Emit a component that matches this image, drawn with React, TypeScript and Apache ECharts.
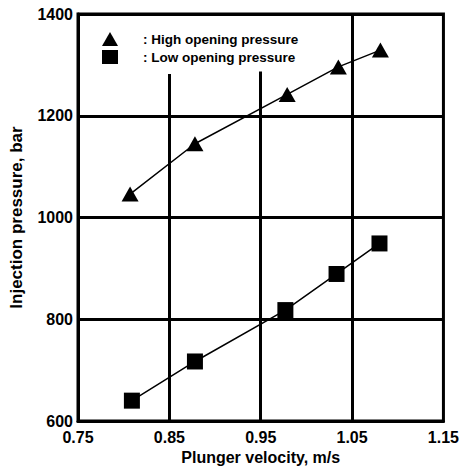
import React, { useEffect, useRef } from "react";
import * as echarts from "echarts";

const highVelocity = [0.807, 0.878, 0.979, 1.035, 1.081];
const highPressure = [1046, 1145, 1242, 1296, 1329];
const lowVelocity = [0.809, 0.878, 0.977, 1.033, 1.080];
const lowPressure = [640, 717, 818, 889, 949];
const xTickLabels = [0.75, 0.85, 0.95, 1.05, 1.15];
const yTickLabels = [600, 800, 1000, 1200, 1400];
// vertical grid lines: [x value, top end value]
const vGridX = [0.85, 0.95, 1.05];
const vGridTop = [1282, 1287, 1400];

const FONT = "'Liberation Sans', Arial, sans-serif";

export default function App() {
  const ref = useRef<HTMLDivElement>(null);
  useEffect(() => {
    if (!ref.current) return;
    const chart = echarts.init(ref.current, null, { renderer: "svg" });
    const pair = (xs: number[], ys: number[]) => xs.map((x, i) => [x, ys[i]]);
    chart.setOption({
      animation: false,
      backgroundColor: "#fff",
      grid: {
        left: 78,
        right: 14,
        top: 14,
        bottom: 51,
        show: true,
        borderColor: "#000",
        borderWidth: 3,
        backgroundColor: "transparent",
      },
      legend: {
        orient: "vertical",
        left: 97,
        top: 27,
        itemWidth: 16,
        itemHeight: 14,
        itemGap: 4,
        selectedMode: false,
        textStyle: {
          fontFamily: FONT,
          fontWeight: "bold",
          fontSize: 13.5,
          color: "#000",
          padding: [0, 0, 0, 20],
        },
        formatter: (n: string) => ": " + n,
        data: [
          { name: "High opening pressure", icon: "triangle" },
          { name: "Low opening pressure", icon: "rect" },
        ],
      },
      xAxis: {
        type: "value",
        min: 0.75,
        max: 1.15,
        axisLine: { show: true, lineStyle: { color: "#000", width: 3 } },
        axisTick: { show: false },
        splitLine: { show: false },
        axisLabel: {
          customValues: xTickLabels,
          formatter: (v: number) => v.toFixed(2),
          fontFamily: FONT,
          fontWeight: "bold",
          fontSize: 16,
          color: "#000",
          margin: 8,
        },
        name: "Plunger velocity, m/s",
        nameLocation: "middle",
        nameGap: 28,
        nameTextStyle: { fontFamily: FONT, fontWeight: "bold", fontSize: 16, color: "#000" },
      },
      yAxis: {
        type: "value",
        min: 600,
        max: 1400,
        interval: 200,
        axisLine: { show: true, lineStyle: { color: "#000", width: 3 } },
        axisTick: { show: false },
        splitLine: { show: true, lineStyle: { color: "#000", width: 3 } },
        axisLabel: {
          customValues: yTickLabels,
          formatter: (v: number) => String(v),
          fontFamily: FONT,
          fontWeight: "bold",
          fontSize: 16,
          color: "#000",
          margin: 5,
        },
        name: "Injection pressure, bar",
        nameLocation: "middle",
        nameGap: 53,
        nameTextStyle: { fontFamily: FONT, fontWeight: "bold", fontSize: 17, color: "#000" },
      },
      series: [
        {
          name: "High opening pressure",
          type: "line",
          data: pair(highVelocity, highPressure),
          symbol: "triangle",
          symbolSize: [17, 15],
          itemStyle: { color: "#000" },
          lineStyle: { color: "#000", width: 1.5 },
          markLine: {
            silent: true,
            symbol: "none",
            label: { show: false },
            lineStyle: { color: "#000", width: 3, type: "solid" },
            data: vGridX.map((x, i) => [
              { coord: [x, 600] },
              { coord: [x, vGridTop[i]] },
            ]),
          },
        },
        {
          name: "Low opening pressure",
          type: "line",
          data: pair(lowVelocity, lowPressure),
          symbol: "rect",
          symbolSize: 16,
          itemStyle: { color: "#000" },
          lineStyle: { color: "#000", width: 1.5 },
        },
      ],
    });
    return () => chart.dispose();
  }, []);
  return (
    <div
      ref={ref}
      style={{ position: "absolute", left: 0, top: 0, width: 462, height: 472 }}
    />
  );
}
